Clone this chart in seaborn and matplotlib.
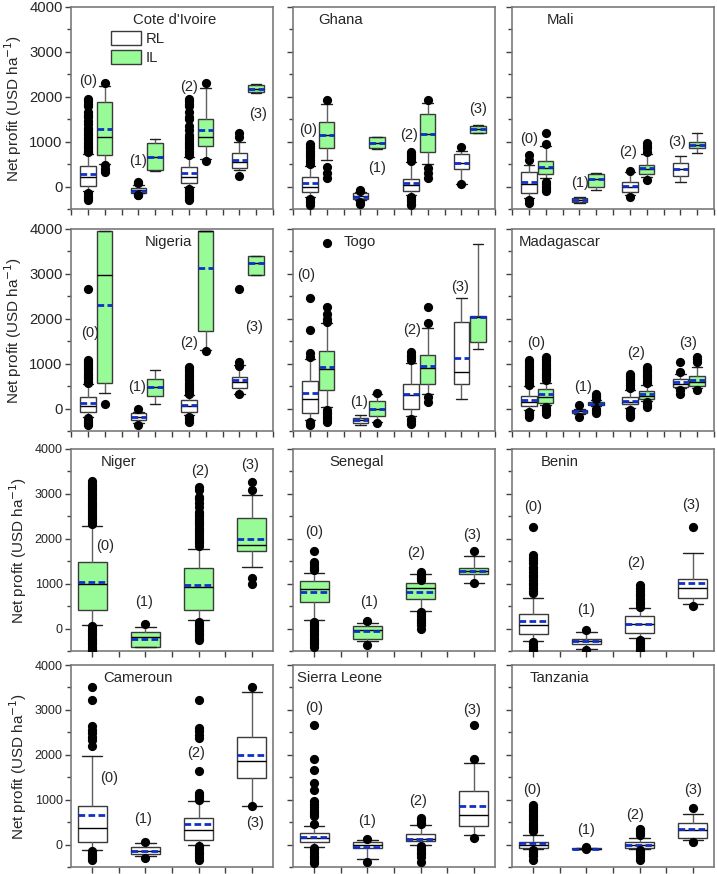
"""
Net profit per country: box plots for RL and IL by group (0)-(3).
Writes out.png (717 x 874 px).
"""
import matplotlib
matplotlib.use("Agg")
import matplotlib.pyplot as plt
from matplotlib.patches import Patch
from matplotlib.ticker import MultipleLocator
import pandas as pd
import seaborn as sns

sns.set_style("ticks")
plt.rcParams["font.family"] = ["Liberation Sans", "DejaVu Sans"]

GROUPS = ["(0)", "(1)", "(2)", "(3)"]
SERIES = ["RL", "IL"]

# box stats per group: (whisker low, q1, median, q3, whisker high, mean)
# ---------------------------------------------------------------------------
COTE_RL = [(-97, 22, 223, 460, 720, 282), (-150, -134, -80, -37, 37, -89),
           (0, 89, 223, 446, 669, 312), (371, 409, 557, 743, 1003, 594)]
COTE_RL_OUT = [[760, 800, 850, 900, 950, 1000, 1050, 1100, 1150, 1200, 1250, 1300, 1400,
                1450, 1550, 1600, 1650, 1800, 1850, 1900, 1950, -150, -200, -250, -300],
               [110, 80, -180, -190],
               [700, 750, 800, 850, 900, 950, 1000, 1050, 1100, 1150, 1250, 1350, 1500,
                1550, 1650, 1800, 1850, 1900, 1950, -50, -100, -150, -200, -250, -300],
               [1200, 1110, 230]]
COTE_IL = [(505, 706, 1114, 1880, 2244, 1278), (350, 371, 650, 966, 1055, 669),
           (624, 906, 1100, 1508, 2206, 1263), (2095, 2117, 2165, 2266, 2280, 2170)]
COTE_IL_OUT = [[2300, 480, 400, 320], [], [2300, 580], []]

GHANA_RL = [(-223, -126, 0, 208, 461, 89), (-310, -270, -215, -150, -130, -225),
            (-186, -89, 37, 178, 542, 74), (52, 386, 520, 728, 802, 520)]
GHANA_RL_OUT = [[500, 550, 600, 650, 700, 750, 800, 850, 900, 950, -280, -320, -360, -400],
                [-80, -110, -350, -380],
                [580, 630, 680, 730, 780, -230, -280, -330, -380, -410],
                [880, 52]]
GHANA_IL = [(594, 854, 1150, 1434, 1835, 1159), (840, 854, 966, 1100, 1114, 966),
            (498, 765, 1166, 1612, 1857, 1166), (1196, 1204, 1285, 1352, 1367, 1285)]
GHANA_IL_OUT = [[1930, 440, 300, 200], [], [1930, 408, 297, 186], []]

MALI_RL = [(-245, -134, 60, 319, 483, 97), (-357, -334, -297, -260, -223, -297),
           (-193, -126, 0, 111, 319, 22), (111, 238, 394, 520, 683, 394)]
MALI_RL_OUT = [[706, 594, -297, -357], [], [357, -223], []]
MALI_IL = [(186, 275, 409, 572, 906, 446), (-74, 0, 163, 282, 297, 163),
           (223, 282, 394, 483, 721, 409), (743, 854, 929, 1003, 1189, 929)]
MALI_IL_OUT = [[1200, 950, 100, 50, 0, -50, -100], [], [966, 900, 850, 780, 149], []]

NIGERIA_RL = [(-186, -74, 60, 261, 536, 127), (-320, -260, -186, -97, -74, -186),
              (-149, -74, 60, 186, 313, 74), (320, 447, 581, 707, 968, 633)]
NIGERIA_RL_OUT = [[2665, 1080, 1040, 1000, 950, 900, 850, 800, 750, 700, 650, 600, 560,
                   -220, -270, -320, -370],
                  [0, -372],
                  [930, 880, 830, 780, 730, 680, 630, 580, 530, 480, 430, 380, 335,
                   -186, -240, -300],
                  [2665, 1040, 950, 330]]
NIGERIA_IL = [(350, 573, 2978, 3960, 3960, 2308), (112, 283, 484, 648, 856, 484),
              (1303, 1727, 3960, 3960, 3960, 3127), (2978, 2978, 3239, 3388, 3388, 3239)]
NIGERIA_IL_OUT = [[112], [], [1280], []]

TOGO_RL = [(-246, -89, 223, 611, 1095, 350), (-372, -313, -246, -201, -149, -246),
           (-171, 0, 298, 558, 1005, 320), (208, 558, 804, 1921, 2472, 1117)]
TOGO_RL_OUT = [[2472, 1750, 1230, 1150, -300, -340, -372], [],
               [1266, 1200, 1140, 1080, -223, -280, -335], []]
TOGO_IL = [(37, 410, 879, 1281, 1899, 916), (-298, -171, 0, 164, 320, 0),
           (320, 543, 894, 1191, 1802, 946), (1325, 1489, 2040, 2070, 3663, 2048)]
TOGO_IL_OUT = [[3686, 2270, 2100, 1990, 1930, -37, -80, -130, -180, -230, -300],
               [350, -313], [2271, 1899, 260, 150], []]

MADAGASCAR_RL = [(-22, 52, 149, 283, 499, 186), (-112, -89, -60, -37, 0, -60),
                 (15, 97, 149, 261, 410, 179), (447, 484, 558, 648, 767, 596)]
MADAGASCAR_RL_OUT = [[1080, 1030, 980, 930, 880, 830, 780, 730, 680, 630, 580, 530,
                      -74, -110, -150, -186],
                     [74, -186],
                     [780, 730, 680, 630, 580, 530, 450, -37, -90, -140, -186],
                     [1042, 819, 410, 335]]
MADAGASCAR_IL = [(89, 127, 261, 432, 573, 320), (60, 74, 112, 149, 201, 112),
                 (179, 223, 283, 395, 521, 320), (447, 499, 581, 730, 930, 626)]
MADAGASCAR_IL_OUT = [[1154, 1100, 1050, 1000, 950, 900, 850, 800, 750, 700, 633,
                      37, -10, -60, -112],
                     [335, 290, 250, 208, 0, -50, -97],
                     [930, 880, 830, 780, 730, 680, 620, 560, 150, 90, 37],
                     [1154, 1100, 1042, 410]]

NIGER_IL = [(74, 410, 990, 1489, 2293, 1042), (-410, -410, -186, -74, 37, -231),
            (186, 424, 916, 1355, 1772, 968), (1363, 1727, 1862, 2457, 2978, 1995)]
NIGER_IL_OUT = [[3276, 3230, 3180, 3130, 3080, 3030, 2980, 2930, 2880, 2830, 2780, 2730,
                 2680, 2630, 2580, 2530, 2480, 2430, 2380, 2330, 50, 0, -50, -100, -150,
                 -200, -250, -300, -350, -400, -450, -500],
                [112],
                [3164, 3080, 2920, 2880, 2800, 2700, 2600, 2550, 2500, 2450, 2400, 2350,
                 2300, 2250, 2200, 2150, 2100, 2050, 2000, 1950, 1900, 1850, 150, 100, 50,
                 0, -50, -100, -150, -200, -260],
                [3254, 3090, 1117, 990]]

SENEGAL_IL = [(186, 596, 879, 1057, 1229, 804), (-283, -223, -30, 60, 127, -60),
              (395, 655, 893, 1005, 1206, 804), (1020, 1206, 1281, 1340, 1623, 1281)]
SENEGAL_IL_OUT = [[1727, 1480, 1430, 1380, 1330, 1303, 150, 100, 50, 0, -50, -100, -150,
                   -200, -250, -300, -350, -410],
                  [171, -372],
                  [1266, 1220, 1170, 1120, 1080, 372, 320, 270, 220, 170, 120, 70, 0],
                  [1727, 1005]]

BENIN_RL = [(-275, -127, 89, 335, 685, 164), (-447, -350, -275, -238, -74, -275),
            (-208, -97, 97, 276, 447, 112), (558, 685, 893, 1095, 1675, 1005)]
BENIN_RL_OUT = [[2256, 1638, 1580, 1520, 1450, 1380, 1320, 1260, 1200, 1140, 1080, 1020,
                 960, 900, 840, 782, -298, -350, -400, -450, -500],
                [-37, -484],
                [968, 900, 840, 780, 720, 660, 600, 540, 484, -250, -300, -350, -400,
                 -450, -500],
                [2256, 506]]

CAMEROUN_RL = [(-111, 52, 370, 852, 1963, 667), (-259, -200, -133, -59, 37, -133),
               (0, 111, 333, 593, 978, 467), (852, 1481, 1867, 2385, 3393, 1985)]
CAMEROUN_RL_OUT = [[3519, 3222, 2630, 2560, 2480, 2400, 2340, 2185, -150, -200, -250,
                    -300, -333],
                   [52, -296],
                   [3222, 2593, 2520, 2450, 2370, 1630, 1150, 1100, 1050, 1000, -37,
                    -100, -160, -220, -280, -333],
                   [3519, 852]]

SIERRA_RL = [(-52, 59, 148, 259, 407, 170), (-319, -74, 0, 59, 111, -59),
             (-15, 74, 133, 237, 444, 133), (222, 422, 652, 1200, 1815, 852)]
SIERRA_RL_OUT = [[2667, 1904, 1652, 1370, 1222, 963, 900, 840, 780, 720, 670, 630, 450,
                  -74, -130, -190, -250, -310, -360, -407],
                 [126, -385],
                 [593, 540, 490, 460, -37, -100, -160, -220, -280, -385],
                 [2667, 1911, 148]]

TANZANIA_RL = [(-96, -74, 0, 59, 222, 37), (-104, -104, -89, -74, -74, -89),
               (-96, -74, 0, 52, 148, 0), (111, 148, 333, 481, 681, 348)]
TANZANIA_RL_OUT = [[889, 840, 790, 740, 690, 640, 590, 540, 490, 440, 390, 340, 296,
                    -111, -160, -210, -260, -333],
                   [-60, -110],
                   [356, 300, 250, 222, -111, -160, -220, -280, -348],
                   [815, 52]]

COUNTRIES = ["Cote d'Ivoire", "Ghana", "Mali",
             "Nigeria", "Togo", "Madagascar",
             "Niger", "Senegal", "Benin",
             "Cameroun", "Sierra Leone", "Tanzania"]

# (RL stats, RL outliers, IL stats, IL outliers) per country
PANELS = {
    "Cote d'Ivoire": (COTE_RL, COTE_RL_OUT, COTE_IL, COTE_IL_OUT),
    "Ghana": (GHANA_RL, GHANA_RL_OUT, GHANA_IL, GHANA_IL_OUT),
    "Mali": (MALI_RL, MALI_RL_OUT, MALI_IL, MALI_IL_OUT),
    "Nigeria": (NIGERIA_RL, NIGERIA_RL_OUT, NIGERIA_IL, NIGERIA_IL_OUT),
    "Togo": (TOGO_RL, TOGO_RL_OUT, TOGO_IL, TOGO_IL_OUT),
    "Madagascar": (MADAGASCAR_RL, MADAGASCAR_RL_OUT, MADAGASCAR_IL, MADAGASCAR_IL_OUT),
    "Niger": (None, None, NIGER_IL, NIGER_IL_OUT),
    "Senegal": (None, None, SENEGAL_IL, SENEGAL_IL_OUT),
    "Benin": (BENIN_RL, BENIN_RL_OUT, None, None),
    "Cameroun": (CAMEROUN_RL, CAMEROUN_RL_OUT, None, None),
    "Sierra Leone": (SIERRA_RL, SIERRA_RL_OUT, None, None),
    "Tanzania": (TANZANIA_RL, TANZANIA_RL_OUT, None, None),
}

# group label placement (x in data units, y in USD/ha)
LABEL_X = {
    "Cote d'Ivoire": [1, 4, 7, 11.1], "Ghana": [0.9, 5, 6.9, 11],
    "Mali": [1, 4.05, 6.9, 9.8], "Nigeria": [1.15, 3.95, 7, 10.9],
    "Togo": [0.8, 3.95, 7.05, 9.95], "Madagascar": [1.45, 4.25, 7.35, 10.45],
    "Niger": [1.47, 2.96, 5.05, 6.94], "Senegal": [1.0, 3.06, 4.84, 6.92],
    "Benin": [1.0, 3.0, 4.87, 6.95], "Cameroun": [1.63, 2.91, 4.9, 7.13],
    "Sierra Leone": [1.0, 3.0, 4.92, 6.92], "Tanzania": [0.97, 3.0, 4.84, 7.0],
}
LABEL_Y = {
    "Cote d'Ivoire": [2350, 560, 2214, 1612], "Ghana": [1263, 409, 1151, 1731],
    "Mali": [1055, 74, 780, 1003], "Nigeria": [1675, 484, 1452, 1824],
    "Togo": [2978, 150, 1750, 2718], "Madagascar": [1452, 484, 1229, 1452],
    "Niger": [1839, 596, 3500, 3648], "Senegal": [2160, 596, 1675, 2085],
    "Benin": [2718, 424, 1452, 2755], "Cameroun": [1481, 570, 2037, 481],
    "Sierra Leone": [3037, 518, 963, 3000], "Tanzania": [1222, 333, 667, 1222],
}
TITLE_X = [0.307, 0.125, 0.17, 0.366, 0.25, 0.035, 0.145, 0.18, 0.14, 0.16, 0.02, 0.085]

GREEN = "#98fb98"
BLUE = "#1030c8"
EDGE = "#3a3a3a"

COL_LEFT = [71, 293, 512]
ROW_TOP = [7, 229, 449, 665]
PW, PH = 202, 202
FIG_W, FIG_H = 717, 874


def to_stats(rows):
    return [dict(whislo=r[0], q1=r[1], med=r[2], q3=r[3], whishi=r[4], mean=r[5], fliers=[])
            for r in rows]


def draw_boxes(ax, rows, outs, positions, width, capw, face):
    ax.bxp(to_stats(rows), positions=positions, widths=width, capwidths=capw,
           patch_artist=True, showmeans=True, meanline=True, showfliers=False,
           manage_ticks=False,
           boxprops=dict(facecolor=face, edgecolor=EDGE, linewidth=1.0),
           medianprops=dict(color="black", linewidth=1.0),
           meanprops=dict(color=BLUE, linestyle=(0, (2.4, 1.2)), linewidth=2.0),
           whiskerprops=dict(color="#606060", linewidth=1.0),
           capprops=dict(color="#202020", linewidth=1.0))
    pts = pd.DataFrame([(p, v) for p, vals in zip(positions, outs) for v in vals],
                       columns=["x", "y"])
    if len(pts):
        sns.scatterplot(data=pts, x="x", y="y", ax=ax, color="black", s=44,
                        linewidth=0, legend=False, zorder=4, clip_on=True)


fig = plt.figure(figsize=(FIG_W / 100, FIG_H / 100), dpi=100)

for i, name in enumerate(COUNTRIES):
    r, c = divmod(i, 3)
    ax = fig.add_axes([COL_LEFT[c] / FIG_W, 1 - (ROW_TOP[r] + PH) / FIG_H,
                       PW / FIG_W, PH / FIG_H])
    rl, rl_out, il, il_out = PANELS[name]
    if rl is not None and il is not None:
        draw_boxes(ax, rl, rl_out, [1, 4, 7, 10], 0.92, 0.62, "white")
        draw_boxes(ax, il, il_out, [2, 5, 8, 11], 0.92, 0.62, GREEN)
        ax.set_xlim(0, 12)
        ax.set_xticks(range(0, 13))
    else:
        rows, outs, face = (rl, rl_out, "white") if rl is not None else (il, il_out, GREEN)
        draw_boxes(ax, rows, outs, [1, 3, 5, 7], 1.08, 0.76, face)
        ax.set_xlim(0.2, 7.8)
        ax.set_xticks(range(1, 8))
    ax.set_xticklabels([])
    ax.set_ylim(-500, 4000)
    ax.yaxis.set_major_locator(MultipleLocator(1000))
    ax.yaxis.set_minor_locator(MultipleLocator(500))

    tick_fs = 10.7 if r < 2 else 9
    ax.tick_params(axis="both", which="major", direction="out", length=4,
                   width=1, color="#404040", labelsize=tick_fs, pad=2)
    ax.tick_params(axis="y", which="minor", direction="out", length=3,
                   width=1, color="#404040")
    for sp in ax.spines.values():
        sp.set_color("#7a7a7a")
        sp.set_linewidth(1.2)

    ax.set_xlabel("")
    if c == 0:
        ax.set_ylabel("Net profit (USD ha$^{-1}$)", fontsize=11, labelpad=4)
    else:
        ax.set_ylabel("")
        ax.set_yticklabels([])

    ax.text(TITLE_X[i], 0.935, name, transform=ax.transAxes, ha="left",
            va="center", fontsize=10.7)
    for lx, ly, lab in zip(LABEL_X[name], LABEL_Y[name], GROUPS):
        ax.text(lx, ly, lab, ha="center", va="center", fontsize=10.5)

    if i == 0:
        handles = [Patch(facecolor="white", edgecolor=EDGE, label=SERIES[0]),
                   Patch(facecolor=GREEN, edgecolor=EDGE, label=SERIES[1])]
        ax.legend(handles=handles, loc="upper left", bbox_to_anchor=(0.17, 0.91),
                  frameon=False, fontsize=10.7, handlelength=2.0, handleheight=1.1,
                  handletextpad=0.3, labelspacing=0.25, borderaxespad=0)

fig.savefig("out.png", dpi=100)
